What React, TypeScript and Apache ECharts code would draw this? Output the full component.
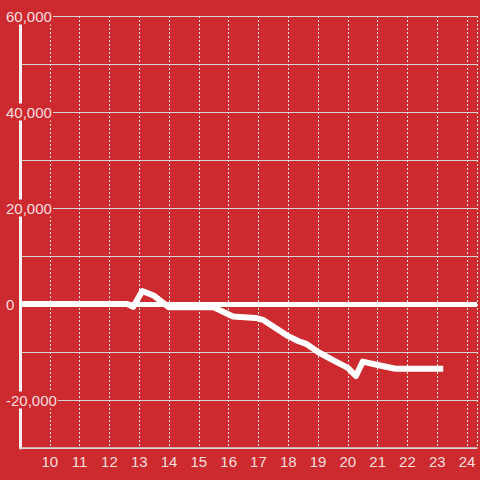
import React, { useEffect, useRef } from "react";
import * as echarts from "echarts";

const xValues = [9, 12.6, 12.8, 13.1, 13.5, 14.0, 15.5, 16.15, 16.9, 17.15, 18.0, 18.33, 18.6, 19.0, 19.5, 20.0, 20.27, 20.5, 21.0, 21.6, 23.2];
const yValues = [0, 0, -600, 2700, 1700, -700, -700, -2600, -2900, -3300, -6700, -7700, -8300, -10000, -11700, -13300, -15000, -12000, -12700, -13500, -13500];
const yTicks = [-20000, 0, 20000, 40000, 60000];

const BG = "#cc2a2f";
const TXT = "rgba(255,255,255,0.86)";

export default function App() {
  const ref = useRef<HTMLDivElement>(null);
  useEffect(() => {
    if (!ref.current) return;
    const chart = echarts.init(ref.current, undefined, { renderer: "svg" });
    const data = xValues.map((x, i) => [x, yValues[i]]);
    chart.setOption({
      animation: false,
      backgroundColor: BG,
      grid: { left: 20, right: 0, top: 16, bottom: 32, containLabel: false },
      xAxis: {
        type: "value",
        min: 9,
        max: 24.333,
        interval: 1,
        axisLine: { show: true, onZero: false, lineStyle: { color: "#d8d8d8", width: 1.5 } },
        axisTick: { show: false },
        axisLabel: {
          color: TXT,
          fontSize: 15,
          fontFamily: "Liberation Sans, Arial, sans-serif",
          margin: 6,
          formatter: (v: number) => (Number.isInteger(v) && v > 9 ? String(v) : ""),
        },
        splitLine: { show: true, lineStyle: { color: "#e4e4e4", type: [2, 2], width: 1 } },
      },
      yAxis: {
        type: "value",
        min: -30000,
        max: 60000,
        interval: 10000,
        axisLine: { show: true, lineStyle: { color: "#f2f2f2", width: 3 } },
        axisTick: { show: false },
        axisLabel: {
          color: TXT,
          fontSize: 15,
          fontFamily: "Liberation Sans, Arial, sans-serif",
          align: "left",
          margin: 14,
          backgroundColor: BG,
          padding: [1, 1, 1, 0],
          formatter: (v: number) => (yTicks.includes(v) ? v.toLocaleString("en-US") : ""),
        },
        splitLine: { show: true, lineStyle: { color: "#d4d4d4", width: 1 } },
      },
      series: [
        {
          type: "line",
          data,
          showSymbol: false,
          symbol: "none",
          lineStyle: { color: "#ffffff", width: 6, join: "round", cap: "butt" },
          z: 5,
          markLine: {
            silent: true,
            symbol: "none",
            label: { show: false },
            lineStyle: { color: "#ffffff", width: 5, type: "solid" },
            data: [{ yAxis: 0 }],
          },
        },
      ],
    });
    return () => chart.dispose();
  }, []);
  return (
    <div
      ref={ref}
      style={{ position: "fixed", left: 0, top: 0, width: 480, height: 480 }}
    />
  );
}
